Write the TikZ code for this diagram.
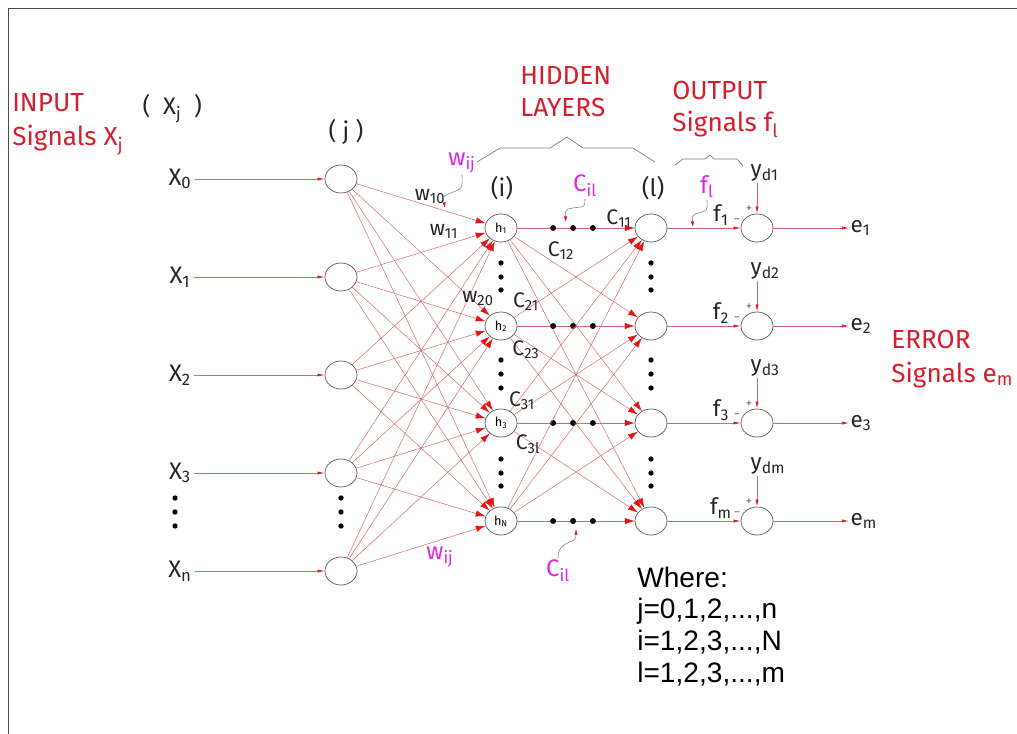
\documentclass[tikz,border=0pt]{standalone}
\usepackage{fontspec}
\setmainfont{Fira Sans}
\newfontfamily\arialfont{Liberation Sans}
\usetikzlibrary{arrows.meta, shapes.geometric}
\definecolor{rojoTexto}{RGB}{212,32,44}
\definecolor{rojoLinea}{RGB}{212,105,105}
\definecolor{rojoPunta}{RGB}{228,20,20}
\definecolor{magenta}{RGB}{222,40,222}
\definecolor{grisLinea}{RGB}{125,125,125}

\begin{document}
\begin{tikzpicture}[x=0.025cm, y=-0.025cm,
    neuron/.style={ellipse, draw=black!65, line width=0.5pt, minimum width=0.8cm,
        minimum height=0.7cm, inner sep=0pt},
    etiq/.style={text=black!85, font=\fontsize{15}{17}\selectfont, inner sep=1pt},
    titulo/.style={text=rojoTexto, font=\fontsize{18.6}{22}\selectfont, anchor=base west, inner sep=0pt},
    nota/.style={text=magenta, font=\fontsize{17}{19}\selectfont, inner sep=1pt},
    red/.style={draw=rojoLinea, line width=0.35pt, -{Latex[length=7pt, width=4.5pt, color=rojoPunta]}},
    flecha/.style={draw=rojoLinea, line width=0.5pt, -{Latex[length=5pt, width=2.2pt, color=rojoPunta]}},
    puntero/.style={draw=grisLinea, line width=0.4pt, -{Latex[length=4pt, width=2.4pt, color=rojoPunta]}},
    llave/.style={draw=grisLinea, line width=0.5pt},
    punto/.style={circle, fill=black, inner sep=0pt, minimum size=4.2pt}]
    \useasboundingbox (0,0) rectangle (1017,734);

    % MARCO
    \draw[black!70, line width=0.7pt] (8,734) -- (8,8) -- (1017,8);

    % TITULOS
    \node[titulo] (tIn1) at (12,112) {INPUT};
    \node[titulo] (tIn2) at (12,146) {Signals X\textsubscript{j}};
    \node[titulo] (tHid1) at (520,85) {HIDDEN};
    \node[titulo] (tHid2) at (520,117) {LAYERS};
    \node[titulo] (tOut1) at (672,100) {OUTPUT};
    \node[titulo] (tOut2) at (672,132) {Signals f\textsubscript{l}};
    \node[titulo] (tErr1) at (891,349) {ERROR};
    \node[titulo] (tErr2) at (891,382) {Signals e\textsubscript{m}};

    % Llaves
    \draw[llave] (477,162) -- (500,148) -- (550,148) -- (567,137) -- (583,148) -- (633,148) -- (655,162);
    \draw[llave] (675,165) -- (683,159) -- (705,159) -- (710,155) -- (714,159) -- (737,159) -- (743,166);

    % CAPA DE ENTRADA (j)
    \node[etiq, font=\fontsize{17}{19}\selectfont, anchor=base west] (xj) at (141,115) {(\ \ X\textsubscript{j}\ \ )};
    \node[etiq, font=\fontsize{17}{19}\selectfont] (capJ) at (346,132) {(\ j\ )};
    \foreach \k/\yy/\lab in {0/179/0, 1/277/1, 2/375/2, 3/473/3, 4/571/n} {
        \node[neuron] (j\k) at (341,\yy) {};
        \node[etiq, font=\fontsize{17}{19}\selectfont, inner sep=2pt] (x\k) at (180,\yy) {X\textsubscript{\lab}};
        \draw[flecha] (x\k) -- (j\k);
    }
    % Puntos suspensivos
    \foreach \yy in {498,512,526} {
        \fill (175,\yy) circle (1.9pt);
        \fill (341,\yy) circle (1.9pt);
    }

    % CAPAS OCULTA (i) Y DE SALIDA (l)
    \node[etiq, font=\fontsize{17}{19}\selectfont] (capI) at (502,188) {(i)};
    \node[etiq, font=\fontsize{17}{19}\selectfont] (capL) at (653,188) {(l)};
    \foreach \k/\yy/\lab/\sal/\des in {1/228/1/1/d1, 2/326/2/2/d2, 3/423/3/3/d3, 4/521/N/m/dm} {
        \node[neuron, font=\fontsize{9}{10}\selectfont] (h\k) at (501,\yy) {h\textsubscript{\lab}};
        \node[neuron] (o\k) at (651,\yy) {};
        \node[neuron] (s\k) at (757,\yy) {};
        % Etiquetas de salida
        \node[etiq, font=\fontsize{16}{18}\selectfont] (f\k) at (721,\yy-13) {f\textsubscript{\sal}};
        \node[etiq, font=\fontsize{16}{18}\selectfont, anchor=south west] (yd\k) at (749,\yy-45) {y\textsubscript{\des}};
        \node[etiq, font=\fontsize{16}{18}\selectfont, anchor=west] (e\k) at (849,\yy) {e\textsubscript{\sal}};
        \node[text=black!60, font=\fontsize{9}{10}\selectfont, inner sep=0pt] (mas\k) at (749,\yy-19) {+};
        \node[text=black!60, font=\fontsize{9}{10}\selectfont, inner sep=0pt] (men\k) at (737,\yy-7) {−};
        \draw[flecha] (o\k) -- (s\k);
        \draw[flecha] (s\k |- yd\k.south) -- (s\k);
        \draw[flecha] (s\k) -- (e\k);
    }
    \foreach \yy in {263,277,290, 360,374,388, 459,473,486} {
        \fill (501,\yy) circle (1.9pt);
        \fill (651,\yy) circle (1.9pt);
    }

    % CONEXIONES
    \foreach \a in {0,...,4}
        \foreach \b in {1,...,4}
            \draw[red] (j\a) -- (h\b);
    \foreach \a in {1,...,4}
        \foreach \b in {1,...,4} {
            \ifnum\a=\b
                \draw[red] (h\a) -- (o\b) node[punto, pos=.305] {} node[punto, pos=.475] {} node[punto, pos=.644] {};
            \else
                \draw[red] (h\a) -- (o\b);
            \fi
        }

    % PESOS
    \node[etiq] (w10) at (430,197) {w\textsubscript{10}};
    \node[etiq] (w11) at (444,231) {w\textsubscript{11}};
    \node[etiq] (w20) at (478,299) {w\textsubscript{20}};
    \node[etiq] (c11) at (619,219) {C\textsubscript{11}};
    \node[etiq] (c12) at (561,251) {C\textsubscript{12}};
    \node[etiq] (c21) at (526,302) {C\textsubscript{21}};
    \node[etiq] (c23) at (526,350) {C\textsubscript{23}};
    \node[etiq] (c31) at (522,401) {C\textsubscript{31}};
    \node[etiq] (c3l) at (528,444) {C\textsubscript{3l}};

    % NOTAS (magenta)
    \node[nota] (wSup) at (462,163) {w\textsubscript{ij}};
    \node[nota] (wInf) at (440,557) {w\textsubscript{ij}};
    \node[nota] (cSup) at (585,186) {C\textsubscript{il}};
    \node[nota] (cInf) at (558,571) {C\textsubscript{il}};
    \node[nota] (fl) at (707,187) {f\textsubscript{l}};
    \coordinate (wPunta) at (445,208);
    \coordinate (cPunta) at (566,222);
    \coordinate (fPunta) at (693,227);
    \coordinate (ciPunta) at (576,529);
    \draw[puntero] (wSup.south) .. controls +(0,14) and +(16,-6) .. (448,194) .. controls +(-5,3) .. (wPunta);
    \draw[puntero] (cSup.south) .. controls +(0,12) and +(16,-4) .. (568,209) .. controls +(-3,3) .. (cPunta);
    \draw[puntero] (fl.south) .. controls +(0,12) and +(14,-4) .. (695,214) .. controls +(-3,3) .. (fPunta);
    \draw[puntero] (cInf.north) .. controls +(0,-10) and +(-14,6) .. (574,540) .. controls +(2,-3) .. (ciPunta);

    % LEYENDA
    \node[anchor=base west, inner sep=0pt, font=\arialfont\fontsize{20}{24}\selectfont] (ley1) at (637,587) {Where:};
    \node[anchor=base west, inner sep=0pt, font=\arialfont\fontsize{20}{24}\selectfont] (ley2) at (637,618) {j=0,1,2,...,n};
    \node[anchor=base west, inner sep=0pt, font=\arialfont\fontsize{20}{24}\selectfont] (ley3) at (637,650) {i=1,2,3,...,N};
    \node[anchor=base west, inner sep=0pt, font=\arialfont\fontsize{20}{24}\selectfont] (ley4) at (637,682) {l=1,2,3,...,m};
\end{tikzpicture}
\end{document}
